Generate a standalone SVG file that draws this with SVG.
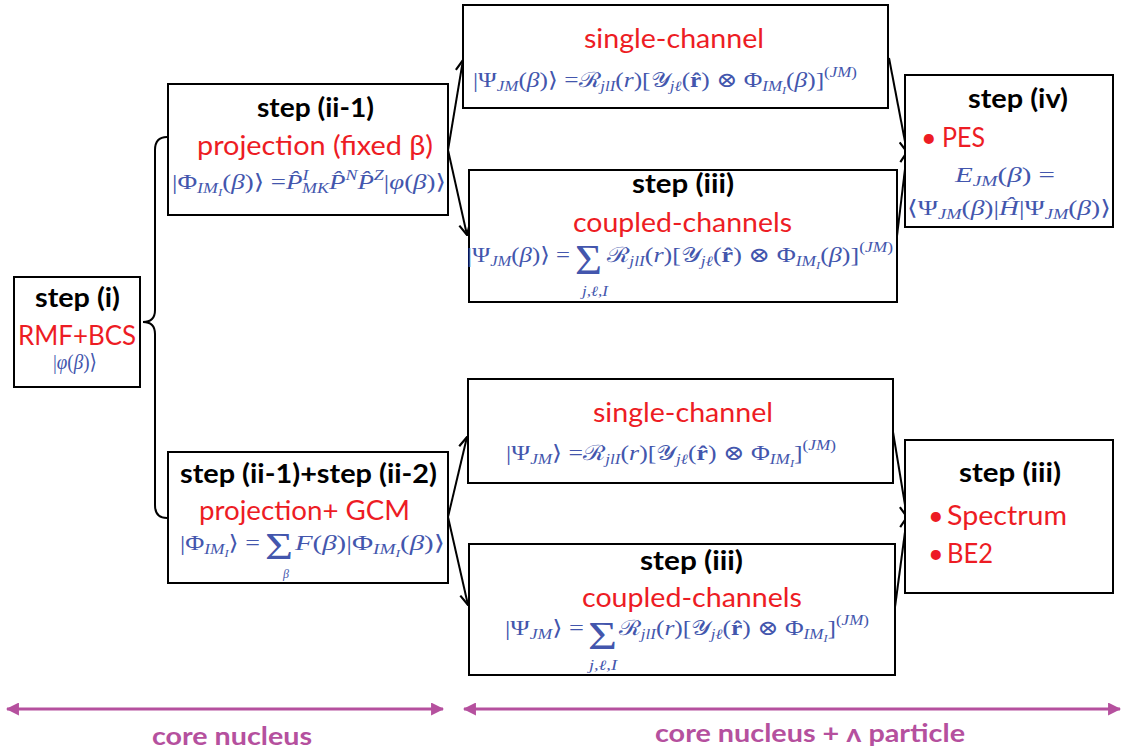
<svg xmlns="http://www.w3.org/2000/svg" width="1126" height="754" viewBox="0 0 1126 754">
  <style>
    .box { fill: #ffffff; stroke: #000000; stroke-width: 2; }
    .hd { font-family: Lato, "Open Sans", "DejaVu Sans", sans-serif; font-weight: bold; font-size: 26px; fill: #000000; }
    .rd { font-family: Lato, "Open Sans", "DejaVu Sans", sans-serif; font-size: 27px; fill: #ED1C24; }
    .m { font-family: "Liberation Serif", "DejaVu Serif", serif; font-size: 21px; fill: #4356AD; }
    .it { font-style: italic; }
    .s { font-size: 14px; }
    .ss { font-size: 10px; }
    .xs { font-size: 12px; }
    .sig { font-family: "Liberation Serif", "DejaVu Serif", serif; font-size: 42px; fill: #4356AD; }
    .conn { fill: none; stroke: #000000; stroke-width: 2; }
    .span { fill: none; stroke: #B5509E; stroke-width: 3; }
    .pl { font-family: Lato, "Open Sans", "DejaVu Sans", sans-serif; font-weight: bold; font-size: 24px; fill: #B5509E; }
  </style>
  <defs>
    <marker id="open" viewBox="0 0 12 12" refX="11" refY="6" markerWidth="13" markerHeight="13" markerUnits="userSpaceOnUse" orient="auto">
      <path d="M1,1 L11,6 L1,11" fill="none" stroke="#000000" stroke-width="2"/>
    </marker>
    <marker id="tri" viewBox="0 0 12 12" refX="11" refY="6" markerWidth="13" markerHeight="13" markerUnits="userSpaceOnUse" orient="auto-start-reverse">
      <path d="M0,0 L12,6 L0,12 Z" fill="#B5509E"/>
    </marker>
  </defs>

  <!-- connectors -->
  <g id="connectors">
    <path class="conn" d="M167,137 Q155,137 155,150 L155,310 Q155,322 143,322 Q155,322 155,334 L155,505 Q155,518 167,518"/>
    <line class="conn" x1="448" y1="150" x2="463" y2="60" marker-end="url(#open)"/>
    <line class="conn" x1="448" y1="150" x2="467" y2="235" marker-end="url(#open)"/>
    <line class="conn" x1="448" y1="517" x2="467" y2="437" marker-end="url(#open)"/>
    <line class="conn" x1="448" y1="517" x2="468" y2="605" marker-end="url(#open)"/>
    <line class="conn" x1="889" y1="58" x2="907" y2="152" marker-end="url(#open)"/>
    <line class="conn" x1="897" y1="236" x2="907" y2="152" marker-end="url(#open)"/>
    <line class="conn" x1="893" y1="432" x2="907" y2="517" marker-end="url(#open)"/>
    <line class="conn" x1="895" y1="607" x2="907" y2="517" marker-end="url(#open)"/>
  </g>

  <!-- step (i) -->
  <g id="step-i">
    <rect class="box" x="14" y="277" width="126" height="110"/>
    <text class="hd" x="35" y="307" textLength="85" lengthAdjust="spacingAndGlyphs">step (i)</text>
    <text class="rd" x="18" y="345" textLength="118" lengthAdjust="spacingAndGlyphs">RMF+BCS</text>
    <text class="m" x="53" y="369" textLength="44" lengthAdjust="spacingAndGlyphs">|<tspan class="it">φ</tspan>(<tspan class="it">β</tspan>)⟩</text>
  </g>

  <!-- step (ii-1): projection at fixed deformation -->
  <g id="step-ii1">
    <rect class="box" x="168" y="84" width="280" height="131"/>
    <text class="hd" x="257" y="117" textLength="117" lengthAdjust="spacingAndGlyphs">step (ii-1)</text>
    <text class="rd" x="197" y="155" textLength="236" lengthAdjust="spacingAndGlyphs">projection (fixed β)</text>
    <text class="m" x="172" y="189" textLength="274" lengthAdjust="spacingAndGlyphs">|Φ<tspan class="s it" dy="4">IM</tspan><tspan class="ss it" dy="3">I</tspan><tspan dy="-7">(</tspan><tspan class="it">β</tspan>)⟩ =<tspan class="it">P̂</tspan><tspan class="s it" dy="-9">I</tspan><tspan class="s it" dx="-5" dy="13">MK</tspan><tspan class="it" dy="-4">P̂</tspan><tspan class="s it" dy="-9">N</tspan><tspan class="it" dy="9">P̂</tspan><tspan class="s it" dy="-9">Z</tspan><tspan dy="9">|</tspan><tspan class="it">φ</tspan>(<tspan class="it">β</tspan>)⟩</text>
  </g>

  <!-- single-channel (fixed β) -->
  <g id="single-beta">
    <rect class="box" x="463" y="5" width="425" height="103"/>
    <text class="rd" x="584" y="48" textLength="180" lengthAdjust="spacingAndGlyphs">single-channel</text>
    <text class="m" x="473" y="87" textLength="384" lengthAdjust="spacingAndGlyphs">|Ψ<tspan class="s it" dy="4">JM</tspan><tspan dy="-4">(</tspan><tspan class="it">β</tspan>)⟩ =ℛ<tspan class="s it" dy="4">jlI</tspan><tspan dy="-4">(</tspan><tspan class="it">r</tspan>)[𝒴<tspan class="s it" dy="4">jℓ</tspan><tspan dy="-4">(</tspan><tspan font-weight="bold">r̂</tspan>) ⊗ Φ<tspan class="s it" dy="4">IM</tspan><tspan class="ss it" dy="3">I</tspan><tspan dy="-7">(</tspan><tspan class="it">β</tspan>)]<tspan class="s" dy="-10">(</tspan><tspan class="s it">JM</tspan><tspan class="s">)</tspan></text>
  </g>

  <!-- step (iii): coupled channels (fixed β) -->
  <g id="coupled-beta">
    <rect class="box" x="469" y="170" width="428" height="132"/>
    <text class="hd" x="632" y="193" textLength="102" lengthAdjust="spacingAndGlyphs">step (iii)</text>
    <text class="rd" x="573" y="232" textLength="219" lengthAdjust="spacingAndGlyphs">coupled-channels</text>
    <text class="m" x="467" y="262" textLength="103" lengthAdjust="spacingAndGlyphs">|Ψ<tspan class="s it" dy="4">JM</tspan><tspan dy="-4">(</tspan><tspan class="it">β</tspan>)⟩ =</text>
    <text class="sig" x="575" y="274" textLength="27" lengthAdjust="spacingAndGlyphs">Σ</text>
    <text class="m s it" x="582" y="296" textLength="26" lengthAdjust="spacingAndGlyphs">j,ℓ,I</text>
    <text class="m" x="607" y="262" textLength="286" lengthAdjust="spacingAndGlyphs">ℛ<tspan class="s it" dy="4">jlI</tspan><tspan dy="-4">(</tspan><tspan class="it">r</tspan>)[𝒴<tspan class="s it" dy="4">jℓ</tspan><tspan dy="-4">(</tspan><tspan font-weight="bold">r̂</tspan>) ⊗ Φ<tspan class="s it" dy="4">IM</tspan><tspan class="ss it" dy="3">I</tspan><tspan dy="-7">(</tspan><tspan class="it">β</tspan>)]<tspan class="s" dy="-10">(</tspan><tspan class="s it">JM</tspan><tspan class="s">)</tspan></text>
  </g>

  <!-- step (iv): potential energy surface -->
  <g id="step-iv">
    <rect class="box" x="905" y="75" width="208" height="152"/>
    <text class="hd" x="968" y="108" textLength="100" lengthAdjust="spacingAndGlyphs">step (iv)</text>
    <text class="rd" x="921" y="147">•</text>
    <text class="rd" x="942" y="147" textLength="43" lengthAdjust="spacingAndGlyphs">PES</text>
    <text class="m" x="955" y="182" textLength="100" lengthAdjust="spacingAndGlyphs"><tspan class="it">E</tspan><tspan class="s it" dy="4">JM</tspan><tspan dy="-4">(</tspan><tspan class="it">β</tspan>) =</text>
    <text class="m" x="907" y="215" textLength="204" lengthAdjust="spacingAndGlyphs">⟨Ψ<tspan class="s it" dy="4">JM</tspan><tspan dy="-4">(</tspan><tspan class="it">β</tspan>)|<tspan class="it">Ĥ</tspan>|Ψ<tspan class="s it" dy="4">JM</tspan><tspan dy="-4">(</tspan><tspan class="it">β</tspan>)⟩</text>
  </g>

  <!-- step (ii-1)+step (ii-2): projection + GCM -->
  <g id="step-ii12">
    <rect class="box" x="168" y="452" width="280" height="131"/>
    <text class="hd" x="180" y="483" textLength="257" lengthAdjust="spacingAndGlyphs">step (ii-1)+step (ii-2)</text>
    <text class="rd" x="199" y="520" textLength="211" lengthAdjust="spacingAndGlyphs">projection+ GCM</text>
    <text class="m" x="180" y="550" textLength="80" lengthAdjust="spacingAndGlyphs">|Φ<tspan class="s it" dy="4">IM</tspan><tspan class="ss it" dy="3">I</tspan><tspan dy="-7">⟩ =</tspan></text>
    <text class="sig" x="265" y="559" style="font-size:38px" textLength="28" lengthAdjust="spacingAndGlyphs">Σ</text>
    <text class="m xs it" x="283" y="578">β</text>
    <text class="m" x="295" y="550" textLength="150" lengthAdjust="spacingAndGlyphs"><tspan class="it">F</tspan>(<tspan class="it">β</tspan>)|Φ<tspan class="s it" dy="4">IM</tspan><tspan class="ss it" dy="3">I</tspan><tspan dy="-7">(</tspan><tspan class="it">β</tspan>)⟩</text>
  </g>

  <!-- single-channel (GCM) -->
  <g id="single-gcm">
    <rect class="box" x="468" y="379" width="425" height="104"/>
    <text class="rd" x="593" y="422" textLength="180" lengthAdjust="spacingAndGlyphs">single-channel</text>
    <text class="m" x="506" y="460" textLength="330" lengthAdjust="spacingAndGlyphs">|Ψ<tspan class="s it" dy="4">JM</tspan><tspan dy="-4">⟩ =ℛ</tspan><tspan class="s it" dy="4">jlI</tspan><tspan dy="-4">(</tspan><tspan class="it">r</tspan>)[𝒴<tspan class="s it" dy="4">jℓ</tspan><tspan dy="-4">(</tspan><tspan font-weight="bold">r̂</tspan>) ⊗ Φ<tspan class="s it" dy="4">IM</tspan><tspan class="ss it" dy="3">I</tspan><tspan dy="-7">]</tspan><tspan class="s" dy="-10">(</tspan><tspan class="s it">JM</tspan><tspan class="s">)</tspan></text>
  </g>

  <!-- step (iii): coupled channels (GCM) -->
  <g id="coupled-gcm">
    <rect class="box" x="469" y="544" width="426" height="131"/>
    <text class="hd" x="640" y="570" textLength="103" lengthAdjust="spacingAndGlyphs">step (iii)</text>
    <text class="rd" x="582" y="607" textLength="220" lengthAdjust="spacingAndGlyphs">coupled-channels</text>
    <text class="m" x="505" y="635" textLength="79" lengthAdjust="spacingAndGlyphs">|Ψ<tspan class="s it" dy="4">JM</tspan><tspan dy="-4">⟩ =</tspan></text>
    <text class="sig" x="588" y="649" style="font-size:40px" textLength="29" lengthAdjust="spacingAndGlyphs">Σ</text>
    <text class="m s it" x="589" y="670" textLength="28" lengthAdjust="spacingAndGlyphs">j,ℓ,I</text>
    <text class="m" x="619" y="635" textLength="250" lengthAdjust="spacingAndGlyphs">ℛ<tspan class="s it" dy="4">jlI</tspan><tspan dy="-4">(</tspan><tspan class="it">r</tspan>)[𝒴<tspan class="s it" dy="4">jℓ</tspan><tspan dy="-4">(</tspan><tspan font-weight="bold">r̂</tspan>) ⊗ Φ<tspan class="s it" dy="4">IM</tspan><tspan class="ss it" dy="3">I</tspan><tspan dy="-7">]</tspan><tspan class="s" dy="-10">(</tspan><tspan class="s it">JM</tspan><tspan class="s">)</tspan></text>
  </g>

  <!-- step (iii): observables -->
  <g id="step-iii-obs">
    <rect class="box" x="905" y="440" width="208" height="153"/>
    <text class="hd" x="959" y="482" textLength="102" lengthAdjust="spacingAndGlyphs">step (iii)</text>
    <text class="rd" x="928" y="525">•</text>
    <text class="rd" x="947" y="525" textLength="120" lengthAdjust="spacingAndGlyphs">Spectrum</text>
    <text class="rd" x="928" y="563">•</text>
    <text class="rd" x="947" y="563" textLength="46" lengthAdjust="spacingAndGlyphs">BE2</text>
  </g>

  <!-- ranges along the bottom -->
  <g id="ranges">
    <line class="span" x1="7" y1="709" x2="443" y2="709" marker-start="url(#tri)" marker-end="url(#tri)"/>
    <line class="span" x1="464" y1="709" x2="1120" y2="709" marker-start="url(#tri)" marker-end="url(#tri)"/>
    <text class="pl" x="152" y="745" textLength="160" lengthAdjust="spacingAndGlyphs">core nucleus</text>
    <text class="pl" x="655" y="742" textLength="310" lengthAdjust="spacingAndGlyphs">core nucleus + ʌ particle</text>
  </g>
</svg>
